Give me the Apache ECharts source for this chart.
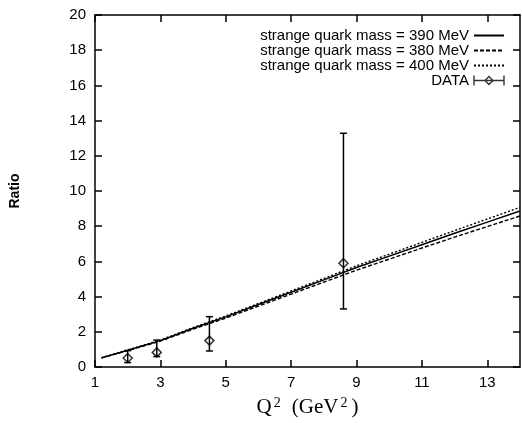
<!DOCTYPE html>
<html>
<head>
<meta charset="utf-8">
<script src="https://cdn.jsdelivr.net/npm/echarts@6/dist/echarts.min.js"></script>
<style>html,body{margin:0;padding:0;background:#fff}#c{width:522px;height:423px}</style>
</head>
<body>
<div id="c"></div>
<script>
const xTicks = [1, 3, 5, 7, 9, 11, 13];
const yTicks = [0, 2, 4, 6, 8, 10, 12, 14, 16, 18, 20];
const q2Values = [1.2, 2, 3, 4, 5, 6, 7, 8, 9, 10, 11, 12, 13, 14];
const ratio390 = [0.52, 0.95, 1.5, 2.2, 2.85, 3.55, 4.25, 4.95, 5.65, 6.3, 6.95, 7.6, 8.23, 8.86];
const ratio380 = [0.51, 0.93, 1.47, 2.15, 2.78, 3.46, 4.14, 4.82, 5.50, 6.13, 6.76, 7.38, 7.98, 8.58];
const ratio400 = [0.53, 0.97, 1.53, 2.24, 2.90, 3.61, 4.32, 5.03, 5.75, 6.41, 7.08, 7.75, 8.41, 9.07];
const dataQ2 = [2.0, 2.89, 4.5, 8.6];
const dataRatio = [0.51, 0.83, 1.5, 5.9];
const dataLow = [0.25, 0.59, 0.91, 3.3];
const dataHigh = [0.93, 1.53, 2.86, 13.28];

const names = ['strange quark mass = 390 MeV', 'strange quark mass = 380 MeV', 'strange quark mass = 400 MeV', 'DATA'];

const chart = echarts.init(document.getElementById('c'), null, {renderer: 'canvas'});
const pair = (xs, ys) => xs.map((x, i) => [x, ys[i]]);
const axisLine = {show: true, onZero: false, lineStyle: {color: '#000', width: 1.5}};
const tick = {show: true, inside: true, length: 7, lineStyle: {color: '#000', width: 1.5}};
const lab = {color: '#000', fontFamily: 'Liberation Sans, Arial, sans-serif', fontSize: 15};
const hidden = {color: 'transparent', borderColor: 'transparent', borderWidth: 0};

chart.setOption({
  animation: false,
  backgroundColor: '#fff',
  grid: {left: 91, right: 2, top: 15, bottom: 56},
  legend: {
    data: names.map((n, i) => i === 3
      ? {name: n, icon: 'path://M0,0L0,10M0,5L30,5M30,0L30,10M11,5L15,1L19,5L15,9Z', itemStyle: {color: 'transparent', borderColor: '#000', borderWidth: 1.4}}
      : {name: n, itemStyle: hidden}),
    orient: 'vertical',
    align: 'right',
    right: 17,
    top: 28,
    padding: 0,
    itemWidth: 30,
    itemHeight: 10,
    itemGap: 0,
    textStyle: {color: '#000', fontFamily: 'Liberation Sans, Arial, sans-serif', fontSize: 15},
    selectedMode: false
  },
  xAxis: [{
    type: 'value', min: 1, max: 14, position: 'bottom',
    axisLine: axisLine,
    axisTick: Object.assign({customValues: xTicks}, tick),
    axisLabel: Object.assign({customValues: xTicks, margin: 8}, lab),
    splitLine: {show: false},
    name: '{n|Q}{s|2}{n|(GeV}{t|2}{n|)}',
    nameLocation: 'middle', nameGap: 29,
    nameTextStyle: {rich: {
      n: {fontFamily: 'Liberation Serif, Times New Roman, serif', fontSize: 21, color: '#000', verticalAlign: 'bottom'},
      s: {fontFamily: 'Liberation Serif, Times New Roman, serif', fontSize: 14, color: '#000', verticalAlign: 'top', padding: [0, 11, 8, 2]},
      t: {fontFamily: 'Liberation Serif, Times New Roman, serif', fontSize: 14, color: '#000', verticalAlign: 'top', padding: [0, 4, 8, 2]}
    }}
  }, {
    type: 'value', min: 1, max: 14, position: 'top',
    axisLine: axisLine,
    axisTick: Object.assign({customValues: xTicks}, tick),
    axisLabel: {show: false},
    splitLine: {show: false}
  }],
  yAxis: [{
    type: 'value', min: 0, max: 20, interval: 2, position: 'left',
    axisLine: axisLine,
    axisTick: tick,
    axisLabel: Object.assign({margin: 9}, lab),
    splitLine: {show: false},
    name: 'Ratio', nameLocation: 'middle', nameGap: 73, nameRotate: 90,
    nameTextStyle: {color: '#000', fontFamily: 'Liberation Sans, Arial, sans-serif', fontSize: 14, fontWeight: 'bold'}
  }, {
    type: 'value', min: 0, max: 20, interval: 2, position: 'right',
    axisLine: axisLine,
    axisTick: tick,
    axisLabel: {show: false},
    splitLine: {show: false}
  }],
  series: [
    {name: names[0], type: 'line', symbol: 'none', data: pair(q2Values, ratio390), lineStyle: {color: '#000', width: 1.5}, itemStyle: {color: '#000'}},
    {name: names[1], type: 'line', symbol: 'none', data: pair(q2Values, ratio380), lineStyle: {color: '#000', width: 1.4, type: [4, 2]}, itemStyle: {color: '#000'}},
    {name: names[2], type: 'line', symbol: 'none', data: pair(q2Values, ratio400), lineStyle: {color: '#000', width: 1.4, type: [2, 2]}, itemStyle: {color: '#000'}},
    {
      name: 'errbars', type: 'custom',
      data: dataQ2.map((x, i) => [x, dataLow[i], dataHigh[i]]),
      renderItem: function (params, api) {
        const lo = api.coord([api.value(0), api.value(1)]);
        const hi = api.coord([api.value(0), api.value(2)]);
        const w = 3.5;
        const st = {stroke: '#000', lineWidth: 1.5};
        return {type: 'group', children: [
          {type: 'line', shape: {x1: lo[0], y1: lo[1], x2: hi[0], y2: hi[1]}, style: st},
          {type: 'line', shape: {x1: lo[0] - w, y1: lo[1], x2: lo[0] + w, y2: lo[1]}, style: st},
          {type: 'line', shape: {x1: hi[0] - w, y1: hi[1], x2: hi[0] + w, y2: hi[1]}, style: st}
        ]};
      },
      z: 3
    },
    {name: names[3], type: 'scatter', symbol: 'diamond', symbolSize: 9, data: pair(dataQ2, dataRatio),
      itemStyle: {color: 'transparent', borderColor: '#000', borderWidth: 1.5}, z: 4}
  ]
});
</script>
</body>
</html>
